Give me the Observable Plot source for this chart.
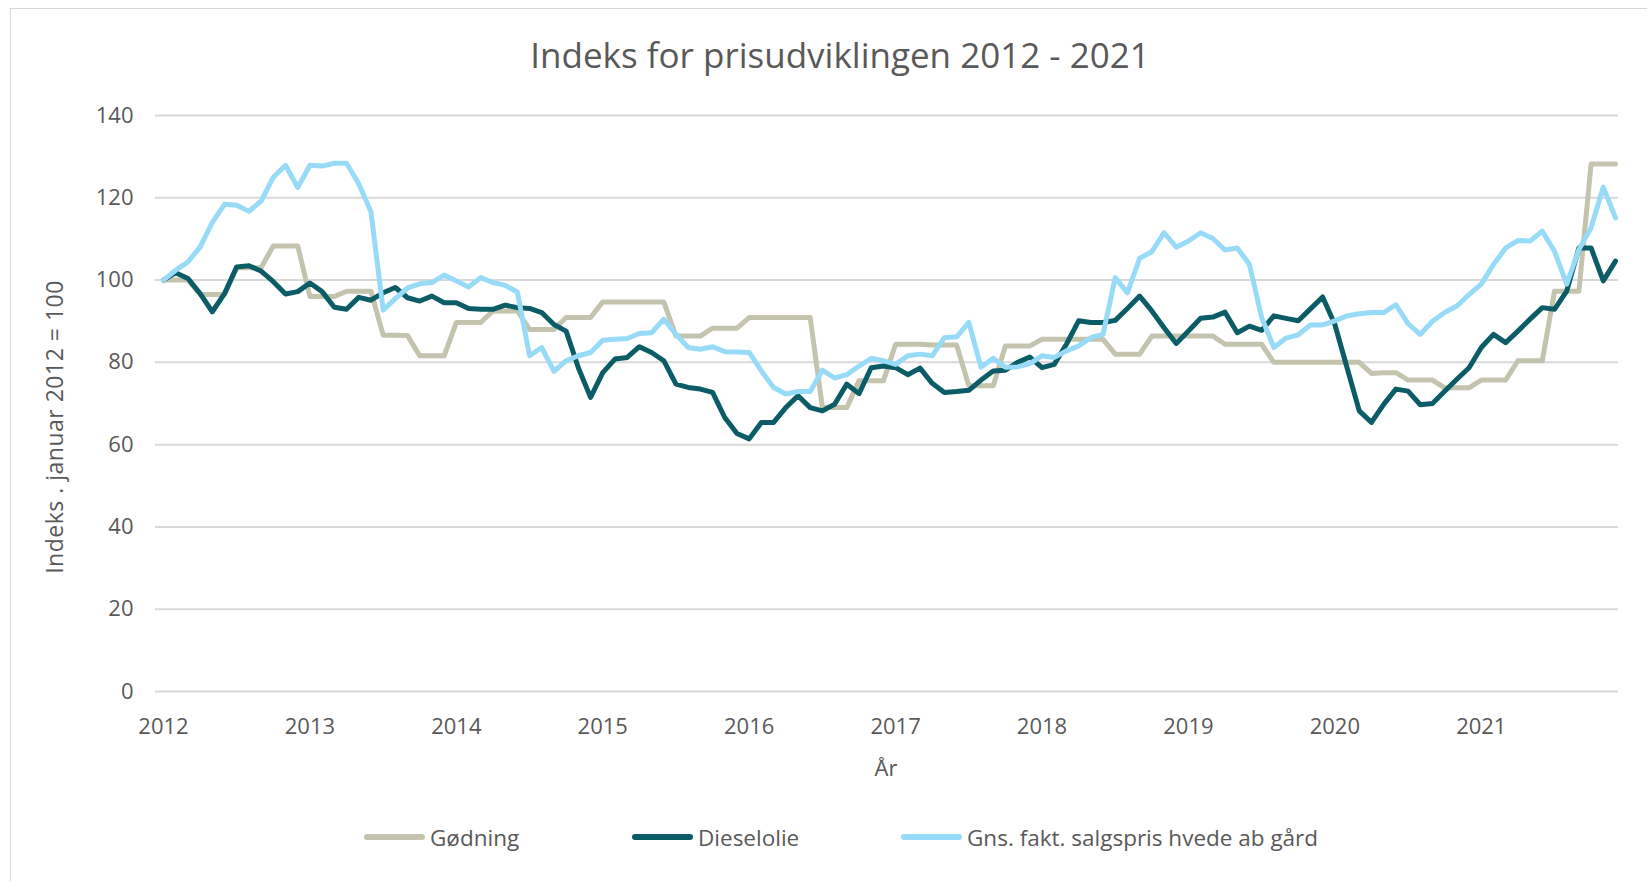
<!DOCTYPE html>
<html>
<head>
<meta charset="utf-8">
<script src="https://cdn.jsdelivr.net/npm/d3@7"></script>
<script src="https://cdn.jsdelivr.net/npm/@observablehq/plot@0.6"></script>
<style>
  html, body { margin: 0; padding: 0; background: #fff; overflow: hidden; }
  body { width: 1647px; height: 881px; position: relative; font-family: "Open Sans", Lato, sans-serif; color: #595959; }
  #frame { position: absolute; left: 10px; top: 8px; width: 1700px; height: 900px; border: 1px solid #d9d9d9; box-sizing: border-box; pointer-events: none; z-index: 10; }
  #title { position: absolute; left: 0; top: 0; width: 1680px; height: 95px; text-align: center; font-size: 35px; line-height: 110px; color: #595959; }
  #chart { position: absolute; left: 0; top: 95px; }
  #legend { position: absolute; left: 0; top: 795px; width: 1647px; height: 86px; }
  .item { position: absolute; top: 30px; height: 24px; display: flex; align-items: center; font-size: 22.5px; color: #595959; }
  .sw { width: 61px; height: 6px; border-radius: 3px; margin-right: 5px; }
</style>
</head>
<body>
<div id="frame"></div>
<div id="title">Indeks for prisudviklingen 2012 - 2021</div>
<div id="chart"></div>
<div id="legend"></div>
<script>
const years = ["2012","2013","2014","2015","2016","2017","2018","2019","2020","2021"];
const yTicks = [0, 20, 40, 60, 80, 100, 120, 140];
const seriesNames = ["Gødning", "Dieselolie", "Gns. fakt. salgspris hvede ab gård"];
const seriesColors = ["#c4c3ad", "#0b5c66", "#97dbf8"];

const goedning = [
  100,100,100,96.5,96.5,96.5,103,103,103,108.3,108.3,108.3,
  96,96,96,97.3,97.3,97.3,86.6,86.6,86.5,81.6,81.6,81.6,
  89.7,89.7,89.7,92.5,92.5,92.5,88,88,88,90.9,90.9,90.9,
  94.7,94.7,94.7,94.7,94.7,94.7,86.4,86.4,86.4,88.3,88.3,88.3,
  90.9,90.9,90.9,90.9,90.9,90.9,69,69,69,75.5,75.5,75.5,
  84.4,84.4,84.4,84.2,84.2,84.2,74.3,74.3,74.3,84,84,84,
  85.6,85.6,85.6,85.6,85.6,85.6,82,82,82,86.4,86.4,86.4,
  86.4,86.4,86.4,84.4,84.4,84.4,84.4,80,80,80,80,80,
  80,80,80,77.3,77.5,77.5,75.7,75.7,75.7,73.8,73.8,73.8,
  75.7,75.7,75.7,80.4,80.4,80.4,97.3,97.3,97.3,128.2,128.2,128.2
];
const diesel = [
  100,101.8,100.4,96.7,92.3,96.7,103.2,103.5,102.2,99.6,96.6,97.2,
  99.3,97.2,93.4,92.9,95.8,95.1,96.9,98.2,95.7,94.9,96.1,94.5,
  94.5,93.1,92.9,92.9,93.9,93.3,93.1,92.1,89.2,87.6,78.7,71.5,
  77.5,80.8,81.2,83.8,82.4,80.4,74.7,73.9,73.5,72.7,66.6,62.7,
  61.4,65.4,65.4,69,71.9,69,68.2,69.8,74.7,72.4,78.7,79.1,
  78.7,77,78.6,74.9,72.7,72.9,73.2,75.7,77.9,78.1,80,81.3,
  78.7,79.5,84.4,90.1,89.7,89.7,90.2,93.1,96.1,92.5,88.4,84.6,
  87.6,90.7,91,92.2,87.2,88.8,87.8,91.3,90.7,90.1,93,95.9,
  89.2,78.7,68.2,65.4,69.8,73.5,73,69.7,70,73,75.9,78.7,
  83.6,86.8,84.8,87.6,90.5,93.3,92.9,97.3,107.8,107.8,99.8,104.6
];
const hvede = [
  100,102.4,104.4,108,114,118.4,118.2,116.7,119.2,125,127.9,122.5,
  127.9,127.7,128.4,128.4,123.4,116.6,92.7,95.5,98.1,99.1,99.4,101.2,
  99.8,98.3,100.6,99.4,98.7,97.1,81.6,83.6,77.8,80.4,81.6,82.4,
  85.4,85.6,85.8,87,87.2,90.5,86.8,83.6,83.2,83.8,82.6,82.5,
  82.4,77.9,73.9,72.3,72.9,72.9,78.1,76.2,77,79.1,81,80.4,
  79.5,81.6,82,81.6,86,86.2,89.7,78.8,81,78.8,78.9,79.7,
  81.6,81.2,82.8,84,86,86.8,100.6,96.9,105.3,106.9,111.5,108,
  109.5,111.5,110.1,107.3,107.8,103.8,90.9,83.6,85.9,86.7,89.1,89.1,
  90.1,91.3,91.8,92.1,92.1,94,89.4,86.8,90,92.1,93.7,96.5,
  99,103.8,107.8,109.6,109.5,111.9,107,99,107.4,112.7,122.6,115.1
];
const allSeries = [goedning, diesel, hvede];

const W = 1647, H = 700;
const fontFam = "'Open Sans', Lato, sans-serif";

const plot = Plot.plot({
  width: W,
  height: H,
  marginLeft: 155,
  marginRight: 29,
  marginTop: 20,
  marginBottom: 104,
  style: { fontFamily: fontFam, fontSize: "22px", color: "#595959", background: "#fff" },
  x: { type: "linear", domain: [0, goedning.length - 1], insetLeft: 8, insetRight: 3 },
  y: { domain: [0, 140] },
  marks: [
    Plot.gridY(yTicks, { stroke: "#d9d9d9", strokeOpacity: 1, strokeWidth: 2 }),
    Plot.axisY(yTicks, { tickSize: 0, tickPadding: 22, label: null, fill: "#595959" }),
    Plot.axisX(years.map((y, i) => i * 12), { tickSize: 0, tickPadding: 27, tickFormat: v => years[v / 12], label: null, fill: "#595959" }),
    ...allSeries.map((s, k) => Plot.line(s, {
      x: (d, i) => i, y: d => d,
      stroke: seriesColors[k], strokeWidth: 5, strokeLinejoin: "round", strokeLinecap: "round"
    }))
  ]
});
document.getElementById("chart").appendChild(plot);

const svg = d3.select(plot);
svg.append("text")
  .attr("transform", "translate(54,332) rotate(-90)")
  .attr("text-anchor", "middle")
  .attr("dominant-baseline", "central")
  .attr("fill", "#595959")
  .style("font-size", "23px")
  .style("letter-spacing", "0.5px")
  .style("font-family", fontFam)
  .text("Indeks . januar 2012 = 100");
svg.append("text")
  .attr("x", 886).attr("y", 672)
  .attr("text-anchor", "middle")
  .attr("dominant-baseline", "central")
  .attr("fill", "#595959")
  .style("font-size", "22px")
  .style("font-family", fontFam)
  .text("År");

const legendLefts = [364, 632, 901];
const legend = document.getElementById("legend");
seriesNames.forEach((name, k) => {
  const it = document.createElement("div");
  it.className = "item";
  it.style.left = legendLefts[k] + "px";
  const sw = document.createElement("div");
  sw.className = "sw";
  sw.style.background = seriesColors[k];
  const tx = document.createElement("span");
  tx.textContent = name;
  it.appendChild(sw); it.appendChild(tx);
  legend.appendChild(it);
});
</script>
</body>
</html>
